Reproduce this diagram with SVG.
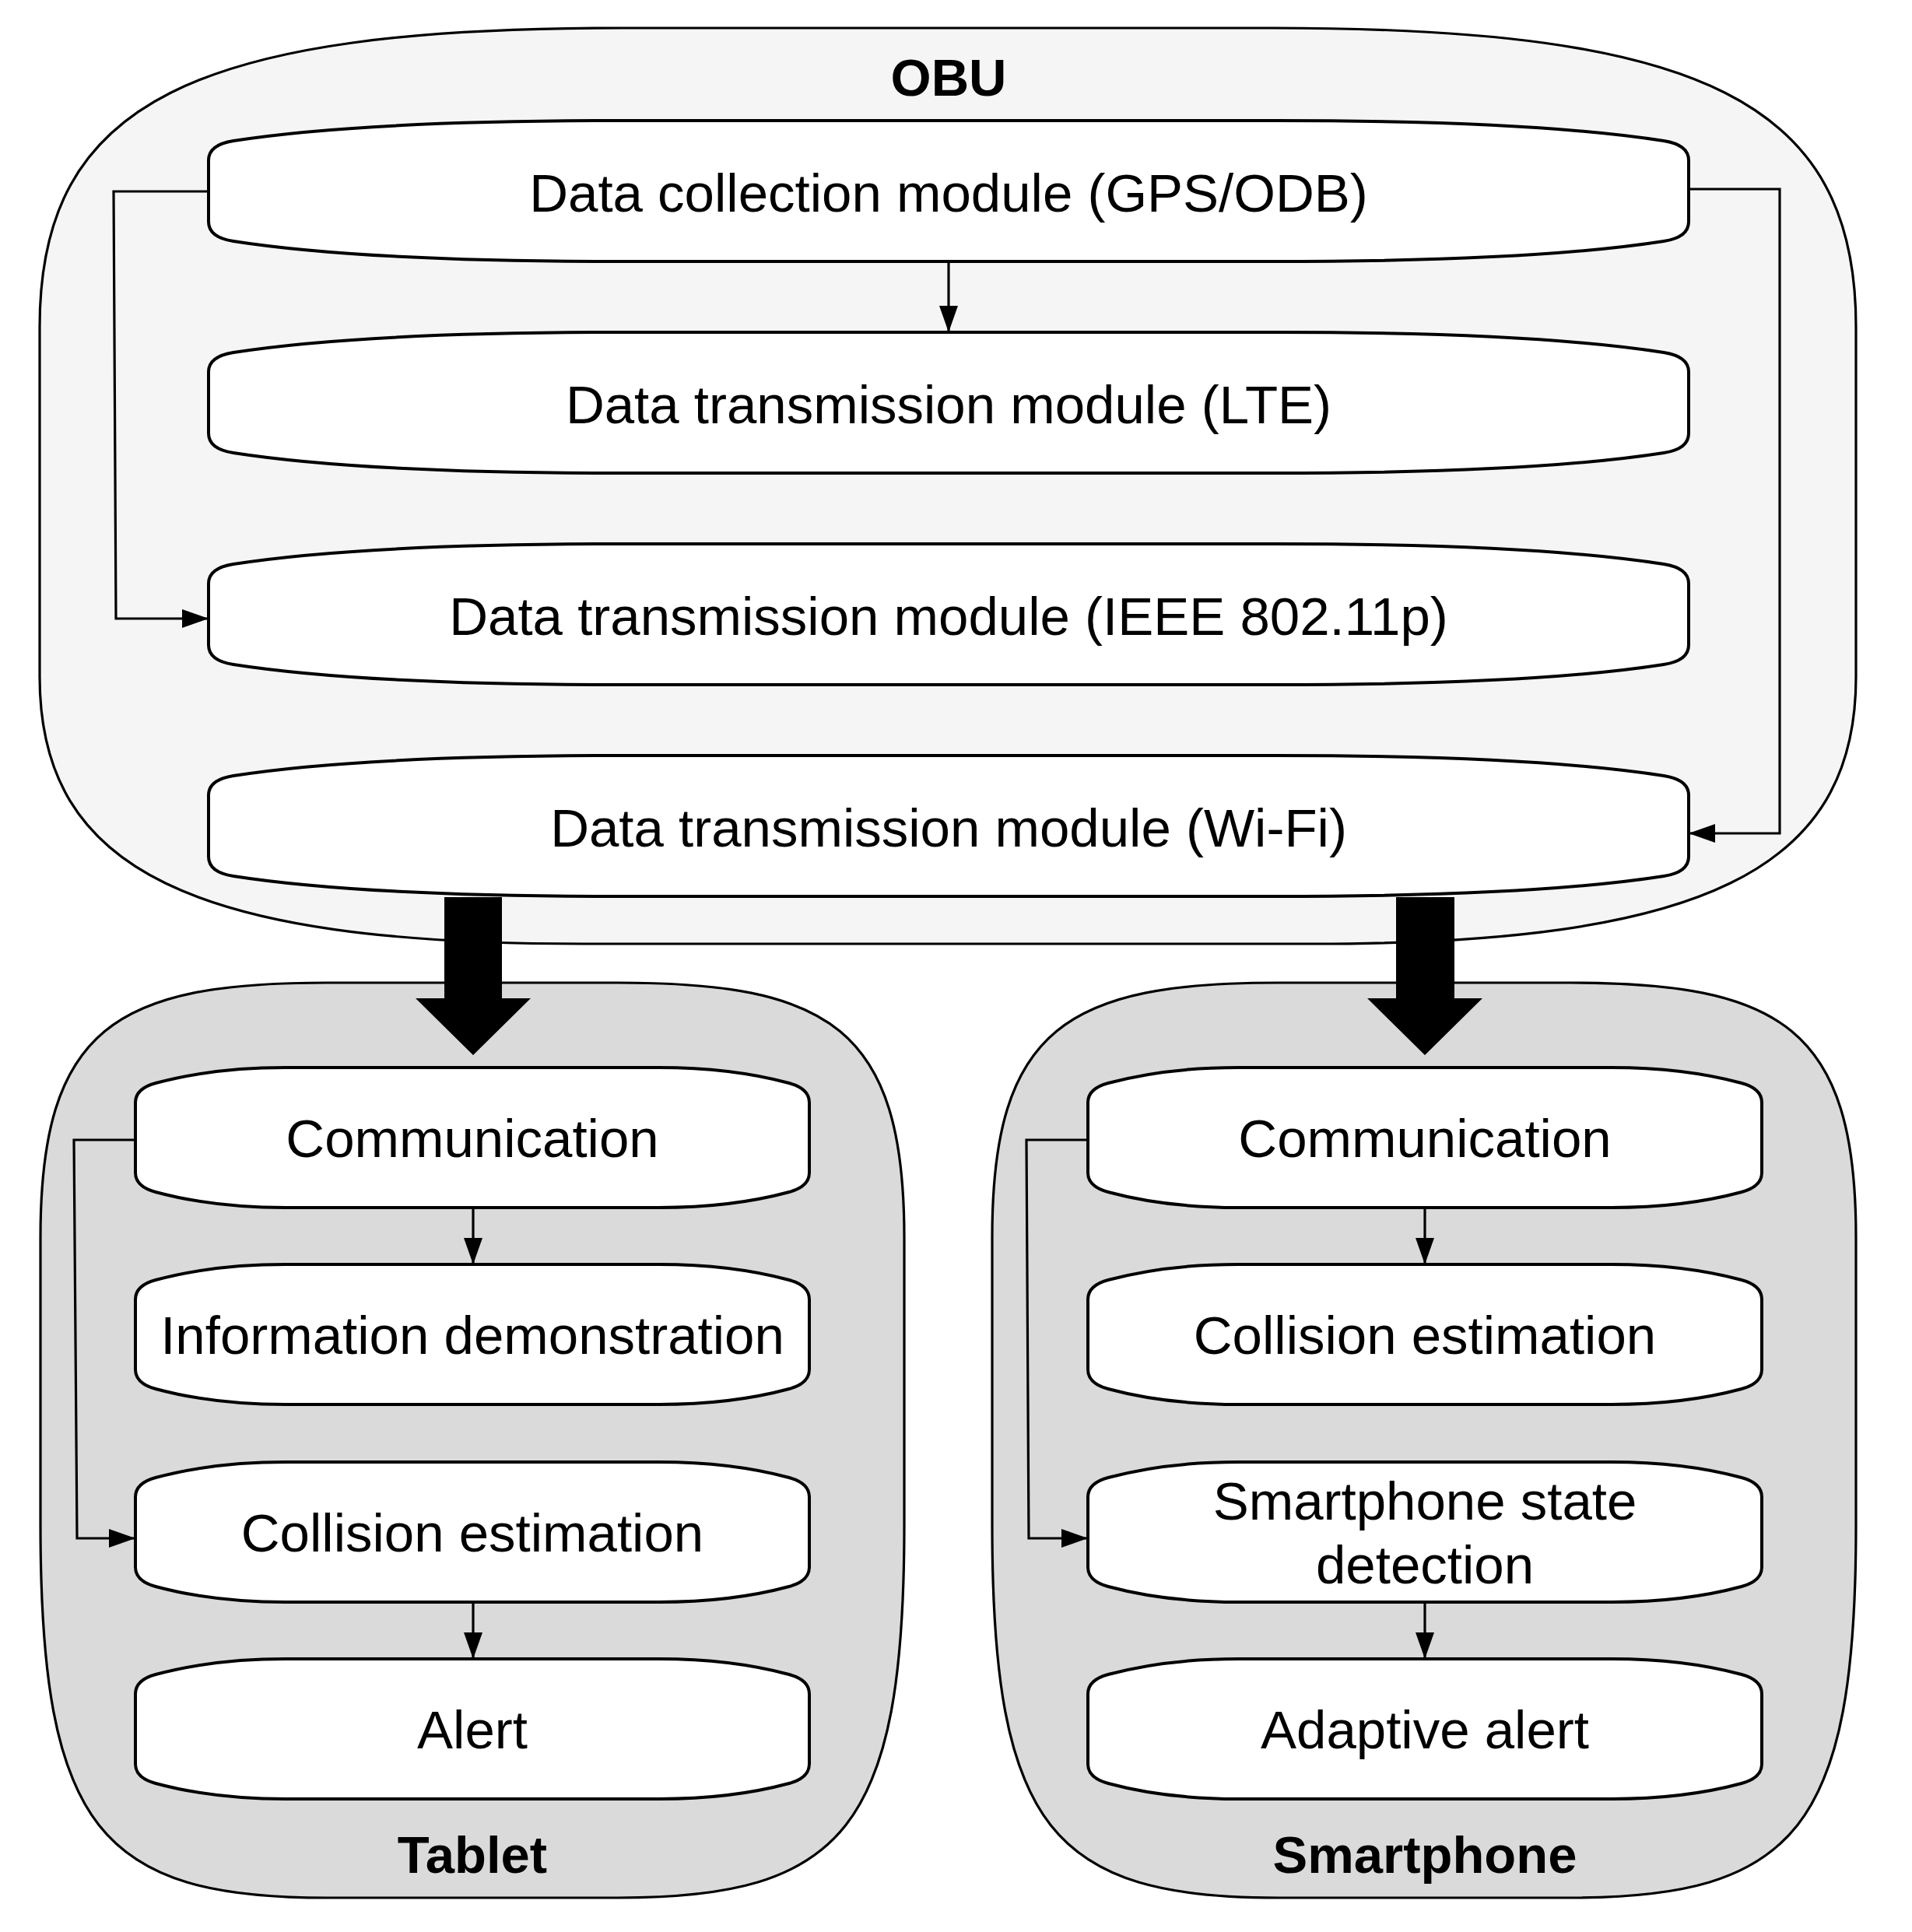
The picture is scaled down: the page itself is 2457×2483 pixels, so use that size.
<svg xmlns="http://www.w3.org/2000/svg" xmlns:xlink="http://www.w3.org/1999/xlink" width="2457" height="2483" viewBox="0 0 2457 2483">
<style>
.cont{stroke:#000;stroke-width:3.2;}
.box{fill:#fff;stroke:#000;stroke-width:4;}
.t{font-family:"Liberation Sans",Arial,Helvetica,sans-serif;font-size:69px;fill:#000;text-anchor:middle;}
.tb{font-family:"Liberation Sans",Arial,Helvetica,sans-serif;font-size:67px;font-weight:bold;fill:#000;text-anchor:middle;}
.edge{fill:none;stroke:#000;stroke-width:3.2;}
.big{fill:#000;stroke:none;}
</style>
<defs>
<marker id="arr" markerUnits="userSpaceOnUse" markerWidth="34" markerHeight="24" refX="34" refY="12" orient="auto">
<path d="M0,0 L34,12 L0,24 Z" fill="#000"/>
</marker>
<path id="obox" d="M0,51 Q0,31 32,26 Q199,0 532,0 L1370,0 Q1703,0 1870,26 Q1902,31 1902,51 L1902,130 Q1902,150 1870,155 Q1703,181 1370,181 L532,181 Q199,181 32,155 Q0,150 0,130 Z"/>
<path id="sbox" d="M0,45 Q0,27 26,20 Q100,0 193,0 L673,0 Q766,0 840,20 Q866,27 866,45 L866,135 Q866,153 840,160 Q766,180 673,180 L193,180 Q100,180 26,160 Q0,153 0,135 Z"/>
<path id="dev" d="M52,1590 C52,1320 150,1263 420,1263 L794,1263 C1064,1263 1162,1320 1162,1590 L1162,1960 C1162,2350 1084,2439 794,2439 L420,2439 C130,2439 52,2350 52,1960 Z"/>
</defs>

<g id="obu">
<path class="cont" fill="#f5f5f5" d="M51,420 C51,130 250,36 800,36 L1636,36 C2186,36 2385,130 2385,420 L2385,870 C2385,1120 2186,1213 1686,1213 L750,1213 C250,1213 51,1120 51,870 Z"/>
<text class="tb" x="1219" y="123">OBU</text>
</g>
<g id="obu-collect">
<use xlink:href="#obox" href="#obox" class="box" x="268" y="155"/>
<text class="t" x="1219" y="272">Data collection module (GPS/ODB)</text>
</g>
<g id="obu-lte">
<use xlink:href="#obox" href="#obox" class="box" x="268" y="427"/>
<text class="t" x="1219" y="544">Data transmission module (LTE)</text>
</g>
<g id="obu-80211p">
<use xlink:href="#obox" href="#obox" class="box" x="268" y="699"/>
<text class="t" x="1219" y="816">Data transmission module (IEEE 802.11p)</text>
</g>
<g id="obu-wifi">
<use xlink:href="#obox" href="#obox" class="box" x="268" y="971"/>
<text class="t" x="1219" y="1088">Data transmission module (Wi-Fi)</text>
</g>

<g id="tablet">
<use xlink:href="#dev" href="#dev" class="cont" fill="#dadada"/>
<text class="tb" x="607" y="2407">Tablet</text>
</g>
<g id="tab-comm">
<use xlink:href="#sbox" href="#sbox" class="box" x="174" y="1372"/>
<text class="t" x="607" y="1487">Communication</text>
</g>
<g id="tab-info">
<use xlink:href="#sbox" href="#sbox" class="box" x="174" y="1625"/>
<text class="t" x="607" y="1740">Information demonstration</text>
</g>
<g id="tab-coll">
<use xlink:href="#sbox" href="#sbox" class="box" x="174" y="1879"/>
<text class="t" x="607" y="1994">Collision estimation</text>
</g>
<g id="tab-alert">
<use xlink:href="#sbox" href="#sbox" class="box" x="174" y="2132"/>
<text class="t" x="607" y="2247">Alert</text>
</g>

<g id="smartphone">
<use xlink:href="#dev" href="#dev" class="cont" fill="#dadada" x="1223" y="0"/>
<text class="tb" x="1831" y="2407">Smartphone</text>
</g>
<g id="sp-comm">
<use xlink:href="#sbox" href="#sbox" class="box" x="1398" y="1372"/>
<text class="t" x="1831" y="1487">Communication</text>
</g>
<g id="sp-coll">
<use xlink:href="#sbox" href="#sbox" class="box" x="1398" y="1625"/>
<text class="t" x="1831" y="1740">Collision estimation</text>
</g>
<g id="sp-state">
<use xlink:href="#sbox" href="#sbox" class="box" x="1398" y="1879"/>
<text class="t" x="1831" y="1953">Smartphone state</text>
<text class="t" x="1831" y="2035">detection</text>
</g>
<g id="sp-alert">
<use xlink:href="#sbox" href="#sbox" class="box" x="1398" y="2132"/>
<text class="t" x="1831" y="2247">Adaptive alert</text>
</g>

<g id="connectors">
<path class="edge" marker-end="url(#arr)" d="M1219,336 L1219,427"/>
<path class="edge" marker-end="url(#arr)" d="M268,246 L146,246 L149,795 L268,795"/>
<path class="edge" marker-end="url(#arr)" d="M2170,243 L2287,243 L2287,1071 L2170,1071"/>
<path class="edge" marker-end="url(#arr)" d="M608,1552 L608,1625"/>
<path class="edge" marker-end="url(#arr)" d="M174,1465 L95,1465 L99,1977 L174,1977"/>
<path class="edge" marker-end="url(#arr)" d="M608,2059 L608,2132"/>
<path class="edge" marker-end="url(#arr)" d="M1831,1552 L1831,1625"/>
<path class="edge" marker-end="url(#arr)" d="M1398,1465 L1319,1465 L1322,1977 L1398,1977"/>
<path class="edge" marker-end="url(#arr)" d="M1831,2059 L1831,2132"/>
<polygon class="big" points="571,1153 645,1153 645,1283 682,1283 608,1356 534,1283 571,1283"/>
<polygon class="big" points="1794,1153 1869,1153 1869,1283 1905,1283 1831,1356 1757,1283 1794,1283"/>
</g>
</svg>
